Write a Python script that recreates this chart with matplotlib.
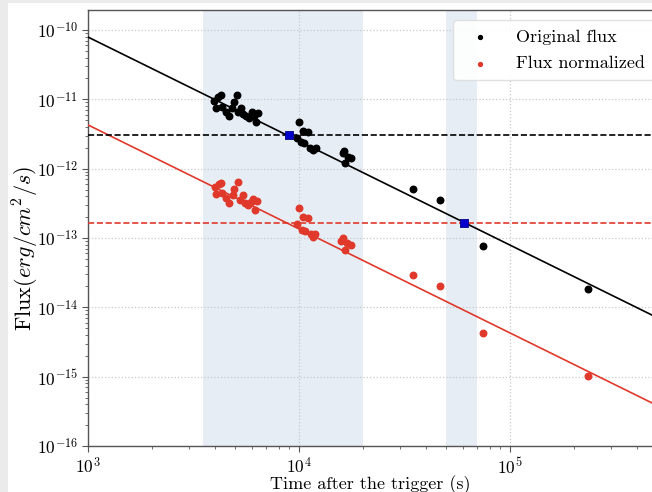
import numpy as np
import matplotlib
matplotlib.use("Agg")
import matplotlib.pyplot as plt
from matplotlib.patches import Rectangle

plt.rcParams['font.family'] = 'serif'
plt.rcParams['font.serif'] = ['cmr10']
plt.rcParams['mathtext.fontset'] = 'cm'
plt.rcParams['axes.formatter.use_mathtext'] = True
plt.rcParams['axes.unicode_minus'] = False

# ---- data ----
t_orig = [3955, 4130, 4270, 4040, 4315, 4510, 4660, 4810, 4920, 5080, 5140, 5310,
          5430, 5610, 5790, 5980, 6120, 6250, 6390,
          10000, 10440, 11030, 9790, 10220, 10560, 11270, 11640, 12040,
          16170, 16340, 17080, 17630, 16520,
          34700, 46600, 74500, 234000]
f_orig = [9.46e-12, 1.08e-11, 1.15e-11, 7.50e-12, 7.75e-12, 6.57e-12, 5.75e-12, 7.50e-12,
          9.15e-12, 1.15e-11, 6.57e-12, 7.50e-12, 6.14e-12, 5.75e-12, 5.38e-12, 6.57e-12,
          5.75e-12, 4.71e-12, 6.35e-12,
          4.71e-12, 3.49e-12, 3.38e-12, 2.77e-12, 2.43e-12, 2.35e-12, 1.99e-12, 1.86e-12, 1.99e-12,
          1.68e-12, 1.80e-12, 1.47e-12, 1.43e-12, 1.21e-12,
          5.09e-13, 3.53e-13, 7.66e-14, 1.84e-14]

t_norm = [4000, 4180, 4270, 4040, 4315, 4510, 4660, 4860, 4920, 5140, 5250, 5430,
          5550, 5730, 5930, 6050, 6190, 6320,
          10000, 10440, 11030, 9790, 10330, 10670, 11390, 11640, 11910,
          15810, 16170, 16880, 17630, 16520,
          34700, 46600, 74500, 234000]
f_norm = [5.44e-13, 6.01e-13, 6.21e-13, 4.31e-13, 4.46e-13, 3.78e-13, 3.20e-13, 4.17e-13,
          5.09e-13, 6.43e-13, 3.53e-13, 4.17e-13, 3.20e-13, 2.99e-13, 3.30e-13, 3.65e-13,
          2.53e-13, 3.42e-13,
          2.71e-13, 2.01e-13, 1.94e-13, 1.59e-13, 1.30e-13, 1.26e-13, 1.14e-13, 1.03e-13, 1.14e-13,
          9.06e-14, 1.00e-13, 8.47e-14, 7.93e-14, 6.71e-14,
          2.92e-14, 2.03e-14, 4.27e-15, 1.02e-15]

decay_index = 1.5
t_ref = 1e3
norm_orig = 7.9e-11
norm_norm = 4.27e-12

level_orig = 3.06e-12
level_norm = 1.64e-13
t_cross = [8980, 60500]
f_cross = [3.06e-12, 1.64e-13]

spans = [(3500, 20000), (50000, 70000)]

xlim = (1e3, 4.71e5)
ylim = (1e-16, 1.94e-10)

# ---- figure ----
W, H = 652, 492
fig = plt.figure(figsize=(W / 100, H / 100), dpi=100, facecolor='#ebebeb')
fig.patches.append(Rectangle((8 / W, 0), 1, (H - 3) / H, transform=fig.transFigure,
                             facecolor='white', edgecolor='none', zorder=-10))
ax = fig.add_axes([88 / W, (H - 446) / H, (W - 88) / W, (446 - 10) / H])
ax.set_xscale('log')
ax.set_yscale('log')
ax.set_xlim(*xlim)
ax.set_ylim(*ylim)

for a, b in spans:
    ax.axvspan(a, b, color='#e6edf5', zorder=0, lw=0)

ax.grid(True, which='major', ls=':', color='#c8c8c8', lw=0.9, zorder=1)

tt = np.logspace(np.log10(xlim[0]), np.log10(xlim[1]), 200)
ax.plot(tt, norm_orig * (tt / t_ref) ** (-decay_index), color='black', lw=1.2, zorder=3)
ax.plot(tt, norm_norm * (tt / t_ref) ** (-decay_index), color='#e0392b', lw=1.2, zorder=3)

ax.axhline(level_orig, color='black', ls='--', lw=1.2, zorder=3)
ax.axhline(level_norm, color='#e0392b', ls='--', lw=1.2, zorder=3)

ax.scatter(t_orig, f_orig, s=22, color='black', zorder=4, label='Original flux')
ax.scatter(t_norm, f_norm, s=22, color='#e0392b', zorder=4, label='Flux normalized')
ax.scatter(t_cross, f_cross, marker='s', s=36, color='#0000cc', edgecolor='#000088',
           lw=0.6, zorder=5)

ax.spines['right'].set_visible(False)
for s in ['left', 'bottom', 'top']:
    ax.spines[s].set_color('#555555')
    ax.spines[s].set_linewidth(1.0)

ax.tick_params(axis='both', which='major', labelsize=12.5, length=4, color='#555555', pad=3)
ax.tick_params(axis='both', which='minor', length=2, color='#555555')

ax.set_xlabel('Time after the trigger (s)', fontsize=13, labelpad=-1)
ax.set_ylabel(r'Flux$(erg/cm^2/s)$', fontsize=16)
ax.yaxis.set_label_coords((41 - 88) / 564, (446 - 248) / 436)

leg = ax.legend(loc='upper right', fontsize=13, markerscale=0.6, frameon=True,
                framealpha=0.9, edgecolor='#dddddd', borderpad=0.5, handletextpad=1.0,
                labelspacing=0.62, bbox_to_anchor=(1.02, 0.998))

fig.savefig('out.png', dpi=100, facecolor=fig.get_facecolor())
